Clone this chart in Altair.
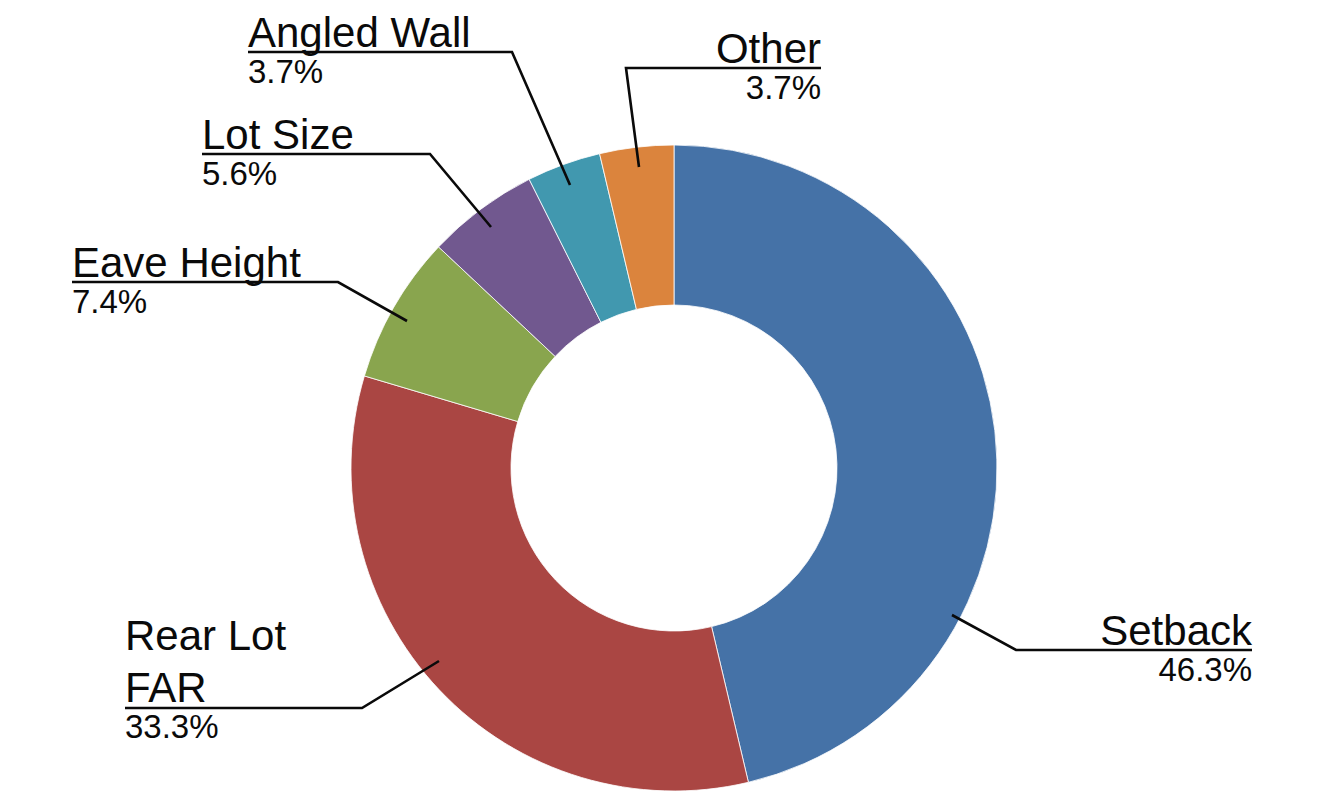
import altair as alt
import pandas as pd

# ---- data ----
categories = ["Setback", "Rear Lot FAR", "Eave Height", "Lot Size", "Angled Wall", "Other"]
values = [46.3, 33.3, 7.4, 5.6, 3.7, 3.7]
colors = ["#4572A7", "#AA4643", "#89A54E", "#71588F", "#4198AF", "#DB843D"]
label_lines = [["Setback"], ["Rear Lot", "FAR"], ["Eave Height"], ["Lot Size"], ["Angled Wall"], ["Other"]]

# ---- layout (pixel positions of labels / leader lines) ----
W, H = 1321, 803
CX, CY = 674, 468
R_OUT, R_IN = 323, 163
label_x = [1252, 125, 72, 202, 248, 821]
label_align = ["right", "left", "left", "left", "left", "right"]
label_first_baseline = [645, 650, 277, 149, 47, 63]
line_gap = 52
pct_gap = 36
leader_pts = [
    [(952, 615), (1016, 650), (1252, 650)],
    [(439, 661), (362, 708), (125, 708)],
    [(407, 321), (338, 282), (72, 282)],
    [(491, 227), (430, 154), (202, 154)],
    [(570, 185), (512, 52), (248, 52)],
    [(639, 167), (626, 68), (821, 68)],
]

# ---- tables ----
pie_df = pd.DataFrame({"cat": categories, "value": values, "idx": range(len(categories))})

line_rows = []
for c, pts in zip(categories, leader_pts):
    for i, (px, py) in enumerate(pts):
        line_rows.append({"cat": c, "seq": i, "px": px, "py": py})
line_df = pd.DataFrame(line_rows)

text_rows = []
for c, v, lines, lx, al, b0 in zip(categories, values, label_lines, label_x, label_align,
                                   label_first_baseline):
    y = b0
    for j, ln in enumerate(lines):
        if j > 0:
            y += line_gap
        text_rows.append({"cat": c, "txt": ln, "px": lx, "py": y, "fs": 42, "align": al})
    text_rows.append({"cat": c, "txt": f"{v:.1f}%", "px": lx, "py": y + pct_gap, "fs": 33, "align": al})
text_df = pd.DataFrame(text_rows)

xs = alt.Scale(domain=[0, W], range=[0, W], nice=False, zero=False)
ys = alt.Scale(domain=[0, H], range=[0, H], nice=False, zero=False)

donut = alt.Chart(pie_df).mark_arc(
    innerRadius=R_IN, outerRadius=R_OUT, stroke="white", strokeWidth=0.8
).encode(
    theta=alt.Theta("value:Q", stack=True),
    order=alt.Order("idx:Q"),
    color=alt.Color("cat:N", scale=alt.Scale(domain=categories, range=colors), legend=None),
    x=alt.value(CX),
    y=alt.value(CY),
)

leaders = alt.Chart(line_df).mark_line(color="#0a0a0a", strokeWidth=2.6).encode(
    x=alt.X("px:Q", scale=xs, axis=None),
    y=alt.Y("py:Q", scale=ys, axis=None),
    detail="cat:N",
    order=alt.Order("seq:Q"),
)

def text_layer(al):
    return alt.Chart(text_df).transform_filter(
        alt.datum.align == al
    ).mark_text(
        align=al, baseline="alphabetic", font="Liberation Sans", color="#0a0a0a"
    ).encode(
        x=alt.X("px:Q", scale=xs, axis=None),
        y=alt.Y("py:Q", scale=ys, axis=None),
        text="txt:N",
        size=alt.Size("fs:Q", scale=None, legend=None),
    )

chart = alt.layer(donut, leaders, text_layer("left"), text_layer("right")).properties(
    width=W, height=H, padding=0,
    autosize=alt.AutoSizeParams(type="none"),
    background="white",
).configure_view(stroke=None)

chart.save("out.html", embed_options={"renderer": "svg", "actions": False})
